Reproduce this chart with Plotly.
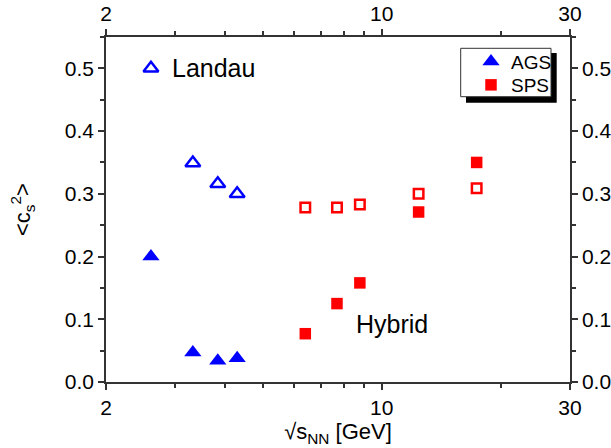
import plotly.graph_objects as go
import math

# ---- data ----
ags_x = [2.6, 3.32, 3.84, 4.30]
ags_hybrid = [0.200, 0.047, 0.034, 0.038]
ags_landau_x = [3.32, 3.84, 4.30]
ags_landau = [0.349, 0.316, 0.300]
sps_x = [6.4, 7.7, 8.8, 12.4, 17.4]
sps_hybrid = [0.077, 0.125, 0.158, 0.271, 0.350]
sps_landau = [0.278, 0.278, 0.283, 0.300, 0.309]
key_x = [2.6]
key_y = [0.5]
x_ticks = [2, 10, 30]
x_minor = [3, 4, 5, 6, 7, 8, 9, 20]
y_ticks = [0.0, 0.1, 0.2, 0.3, 0.4, 0.5]

BLUE = "#0000ff"
RED = "#ff0000"
AX = "#333333"
FONT = "Liberation Sans, Arial, sans-serif"

L, T, W, H = 106, 37, 464, 345
def px(xp):
    return (xp - L) / W
def py(yp):
    return (T + H - yp) / H

fig = go.Figure()
fig.add_trace(go.Scatter(x=ags_x, y=ags_hybrid, mode="markers", name="AGS", legend="legend",
                         marker=dict(symbol="triangle-up", size=15, color=BLUE)))
fig.add_trace(go.Scatter(x=sps_x, y=sps_hybrid, mode="markers", name="SPS", legend="legend2",
                         marker=dict(symbol="square", size=11.5, color=RED)))
fig.add_trace(go.Scatter(x=ags_landau_x, y=ags_landau, mode="markers", showlegend=False,
                         marker=dict(symbol="triangle-up-open", size=13, color=BLUE,
                                     line=dict(width=2.5, color=BLUE))))
fig.add_trace(go.Scatter(x=sps_x, y=sps_landau, mode="markers", showlegend=False,
                         marker=dict(symbol="square-open", size=9.5, color=RED,
                                     line=dict(width=2.5, color=RED))))
fig.add_trace(go.Scatter(x=key_x, y=key_y, mode="markers", showlegend=False,
                         marker=dict(symbol="triangle-up-open", size=13, color=BLUE,
                                     line=dict(width=2.5, color=BLUE))))
# invisible trace to anchor secondary axes
fig.add_trace(go.Scatter(x=[x_ticks[0]], y=[y_ticks[0]], xaxis="x2", yaxis="y2",
                         mode="markers", marker=dict(opacity=0), showlegend=False,
                         hoverinfo="skip"))

xr = [math.log10(2), math.log10(30)]
yr = [0, 0.55]
common_x = dict(type="log", range=xr, tickvals=x_ticks, ticktext=[str(v) for v in x_ticks],
                showline=True, linecolor=AX, linewidth=1.5, ticks="outside", ticklen=6,
                tickwidth=1.5, tickcolor=AX, showgrid=False, zeroline=False, automargin=False,
                tickfont=dict(size=21, family=FONT, color="black"),
                minor=dict(tickvals=x_minor, ticks="outside", ticklen=4, tickwidth=1.5,
                           tickcolor=AX, showgrid=False))
common_y = dict(range=yr, tickvals=y_ticks, ticktext=[f"{v:.1f}" for v in y_ticks],
                showline=True, linecolor=AX, linewidth=1.5, ticks="outside", ticklen=6,
                tickwidth=1.5, tickcolor=AX, showgrid=False, zeroline=False, automargin=False,
                tickfont=dict(size=21, family=FONT, color="black"),
                minor=dict(dtick=0.05, ticks="outside", ticklen=4, tickwidth=1.5,
                           tickcolor=AX, showgrid=False))

leg_common = dict(xanchor="left", yanchor="middle", bgcolor="rgba(0,0,0,0)", borderwidth=0,
                  font=dict(size=19, family=FONT, color="black"))

fig.update_layout(
    width=611, height=448,
    margin=dict(l=L, r=611 - L - W, t=T, b=448 - T - H),
    paper_bgcolor="white", plot_bgcolor="white",
    font=dict(family=FONT, color="black"),
    xaxis=dict(**common_x, title=dict(text="√s<sub>NN</sub> [GeV]", font=dict(size=22),
                                       standoff=6)),
    xaxis2=dict(**common_x, overlaying="x", side="top", matches="x"),
    yaxis=dict(**common_y, title=dict(text="&lt;c<sub>s</sub><sup>2</sup>&gt;",
                                       font=dict(size=22), standoff=28)),
    yaxis2=dict(**common_y, overlaying="y", side="right", matches="y"),
    legend=dict(x=px(471), y=py(61.7), **leg_common),
    legend2=dict(x=px(471), y=py(85), **leg_common),
    shapes=[
        dict(type="rect", xref="paper", yref="paper", layer="above",
             x0=px(466), x1=px(556.7), y0=py(102.7), y1=py(53),
             fillcolor="black", line=dict(width=0)),
        dict(type="rect", xref="paper", yref="paper", layer="above",
             x0=px(460.7), x1=px(551), y0=py(96.7), y1=py(48.3),
             fillcolor="white", line=dict(width=1, color=AX)),
    ],
    annotations=[
        dict(x=math.log10(2.905), y=0.5, xref="x", yref="y", text="Landau",
             showarrow=False, xanchor="left", yanchor="middle",
             font=dict(size=25, family=FONT, color="black")),
        dict(x=math.log10(8.51), y=0.092, xref="x", yref="y", text="Hybrid",
             showarrow=False, xanchor="left", yanchor="middle",
             font=dict(size=25, family=FONT, color="black")),
    ],
)

fig.write_html("out.html")
